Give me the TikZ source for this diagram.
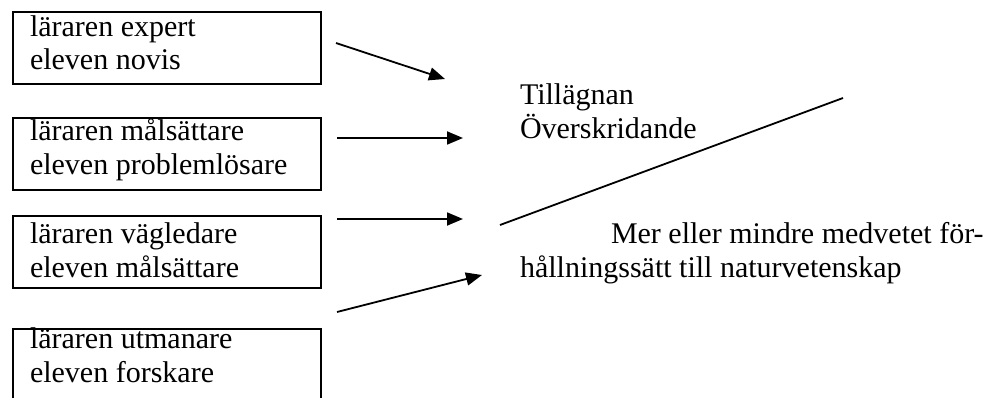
\documentclass[tikz,border=0pt]{standalone}
\usepackage{fontspec}
\setmainfont{Liberation Serif}
\usetikzlibrary{arrows.meta}
\begin{document}
\begin{tikzpicture}[x=1pt,y=-1pt,
  every node/.style={inner sep=0pt,outer sep=0pt},
  txt/.style={anchor=base west,font=\fontsize{30}{34.2}\selectfont},
  boxshape/.style={draw,line width=1.8pt,anchor=north west,minimum width=308pt,minimum height=72pt},
  arr/.style={line width=1.8pt,-{Triangle[length=16pt,width=13pt]}},
  ln/.style={line width=1.8pt}]
\useasboundingbox (0,0) rectangle (987,398);
% boxes
\node[boxshape] (b1) at (13,12) {};
\node[boxshape] (b2) at (13,118) {};
\node[boxshape] (b3) at (13,216) {};
\coordinate (b4bl) at (13,400);
\coordinate (b4tl) at (13,329);
\coordinate (b4tr) at (321,329);
\coordinate (b4br) at (321,400);
\draw[ln] (b4bl) -- (b4tl) -- (b4tr) -- (b4br);
% box texts
\node[txt] (t1a) at (30,36.5) {läraren expert};
\node[txt] (t1b) at (30,70) {eleven novis};
\node[txt] (t2a) at (30,141) {läraren målsättare};
\node[txt] (t2b) at (30,175) {eleven problemlösare};
\node[txt] (t3a) at (30,243) {läraren vägledare};
\node[txt] (t3b) at (30,277) {eleven målsättare};
\node[txt] (t4a) at (30,348) {läraren utmanare};
\node[txt] (t4b) at (30,382) {eleven forskare};
% right texts
\node[txt] (r1) at (520,105) {Tillägnan};
\node[txt] (r2) at (520,139) {Överskridande};
\node[txt] (r3) at (611,243) {Mer eller mindre medvetet för-};
\node[txt] (r4) at (520,277) {hållningssätt till naturvetenskap};
% arrows
\coordinate (a1s) at (336,43);  \coordinate (a1e) at (445,79);
\coordinate (a2s) at (337,138); \coordinate (a2e) at (463,138);
\coordinate (a3s) at (337,219); \coordinate (a3e) at (463,219);
\coordinate (a4s) at (337,312); \coordinate (a4e) at (482,275);
\coordinate (ls) at (500,225);  \coordinate (le) at (843,98);
\draw[arr] (a1s) -- (a1e);
\draw[arr] (a2s) -- (a2e);
\draw[arr] (a3s) -- (a3e);
\draw[arr] (a4s) -- (a4e);
\draw[ln] (ls) -- (le);
\end{tikzpicture}
\end{document}
